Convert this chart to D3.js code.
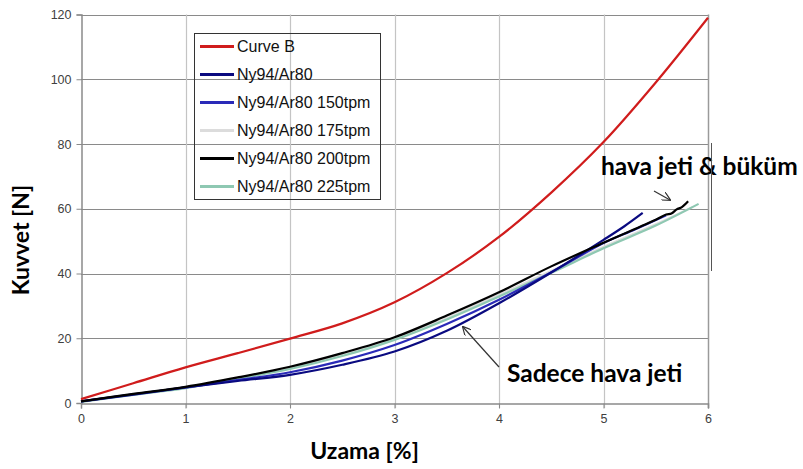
<!DOCTYPE html>
<html>
<head>
<meta charset="utf-8">
<script src="https://cdn.jsdelivr.net/npm/d3@7"></script>
<style>
  body { margin: 0; background: #fff; }
  svg { display: block; }
</style>
</head>
<body>
<div id="chart"></div>
<script>
// chart size
var chart_width = 803;
var chart_height = 469;
var margin = {top: 14.5, right: 95, bottom: 66, left: 81};

// data
var x_ticks = [0, 1, 2, 3, 4, 5, 6];
var y_ticks = [0, 20, 40, 60, 80, 100, 120];

var curve_b_x = [0, 0.5, 1, 1.5, 2, 2.5, 3, 3.5, 4, 4.5, 5, 5.5, 6];
var curve_b_y = [1.2, 6.1, 11, 15.4, 19.9, 24.6, 31.1, 40.1, 51.3, 65, 80.6, 99, 119];

var ny_x = [0, 0.5, 1, 1.5, 2, 2.5, 3, 3.5, 4, 4.5, 5, 5.2, 5.375];
var ny_y = [0.5, 2.6, 4.8, 6.8, 8.7, 11.8, 15.9, 22.3, 30.8, 40.3, 50.4, 54.6, 58.7];

var ny150_x = [0, 0.5, 1, 1.5, 2, 2.5, 3, 3.5, 4, 4.5, 5, 5.3, 5.6];
var ny150_y = [0.5, 2.7, 4.8, 7.1, 9.5, 13.1, 17.9, 24.4, 31.9, 40.4, 49.4, 53.6, 58];

var ny175_x = [0, 0.5, 1, 1.5, 2, 2.5, 3, 3.5, 4, 4.5, 5, 5.5, 5.85];
var ny175_y = [0.4, 2.6, 4.7, 7.6, 10.8, 14.9, 19.9, 26.2, 33.4, 40.8, 48.2, 55.2, 60.5];

var ny200_x = [0, 0.5, 1, 1.5, 2, 2.5, 3, 3.5, 4, 4.5, 5, 5.5, 5.6, 5.65, 5.7, 5.75, 5.81];
var ny200_y = [0.5, 2.8, 5, 7.9, 11.2, 15.4, 20.3, 27, 34.2, 42.2, 49.5, 56.6, 58.2, 58.5, 59.8, 60.5, 62.3];

var ny225_x = [0, 0.5, 1, 1.5, 2, 2.5, 3, 3.5, 4, 4.5, 5, 5.5, 5.91];
var ny225_y = [0.3, 2.5, 4.6, 7.5, 10.5, 14.5, 19.5, 25.8, 32.9, 40.2, 47.8, 54.8, 61.5];

var series_names = ["Curve B", "Ny94/Ar80", "Ny94/Ar80 150tpm", "Ny94/Ar80 175tpm", "Ny94/Ar80 200tpm", "Ny94/Ar80 225tpm"];
var series_colors = ["#d01c1c", "#0a0a80", "#2a2ab8", "#dcdcdc", "#000000", "#8ec8b2"];
var series_x = [curve_b_x, ny_x, ny150_x, ny175_x, ny200_x, ny225_x];
var series_y = [curve_b_y, ny_y, ny150_y, ny175_y, ny200_y, ny225_y];

var x = d3.scaleLinear().domain([0, 6]).range([margin.left, 708]);
var y = d3.scaleLinear().domain([0, 120]).range([chart_height - margin.bottom, margin.top]);

var svg = d3.select('#chart')
            .append('svg')
            .attr('width', chart_width)
            .attr('height', chart_height);

// horizontal grid
svg.append('g')
   .selectAll('line')
   .data(y_ticks.slice(1))
   .enter()
   .append('line')
   .attr('x1', x(0)).attr('x2', x(6))
   .attr('y1', function(d){ return Math.round(y(d)) + 0.5; })
   .attr('y2', function(d){ return Math.round(y(d)) + 0.5; })
   .attr('stroke', '#8a8a8a')
   .attr('stroke-width', 1);

// vertical grid
svg.append('g')
   .selectAll('line')
   .data(x_ticks.slice(1, 6))
   .enter()
   .append('line')
   .attr('x1', function(d){ return Math.round(x(d)) + 0.5; })
   .attr('x2', function(d){ return Math.round(x(d)) + 0.5; })
   .attr('y1', y(120)).attr('y2', y(0) + 5)
   .attr('stroke', '#c4c4c4')
   .attr('stroke-width', 1.2);

// right border
svg.append('line')
   .attr('x1', Math.round(x(6)) + 0.5).attr('x2', Math.round(x(6)) + 0.5)
   .attr('y1', y(120)).attr('y2', y(0) + 5)
   .attr('stroke', '#9a9a9a')
   .attr('stroke-width', 1.5);

// axes
var xAxis = svg.append('g')
   .attr('transform', 'translate(0,' + (Math.round(y(0)) + 0.5) + ')')
   .call(d3.axisBottom(x).tickValues(x_ticks).tickFormat(d3.format('d')).tickSize(5).tickPadding(6));
var yAxis = svg.append('g')
   .attr('transform', 'translate(' + (Math.round(x(0)) + 0.5) + ',0)')
   .call(d3.axisLeft(y).tickValues(y_ticks).tickSize(5).tickPadding(5));

[xAxis, yAxis].forEach(function(a){
    a.select('.domain').attr('stroke', '#8a8a8a').attr('stroke-width', 1.5);
    a.selectAll('.tick line').attr('stroke', '#8a8a8a');
    a.selectAll('.tick text')
     .attr('fill', '#404040')
     .style('font-family', 'Liberation Sans, Arial, sans-serif')
     .style('font-size', '12.5px');
});

// lines
var line = d3.line()
             .x(function(d){ return x(d[0]); })
             .y(function(d){ return y(d[1]); })
             .curve(d3.curveCatmullRom.alpha(0.5));

var draw_order = [3, 5, 2, 1, 4, 0];
draw_order.forEach(function(i){
    var pts = series_x[i].map(function(v, j){ return [v, series_y[i][j]]; });
    svg.append('path')
       .datum(pts)
       .attr('d', line)
       .attr('fill', 'none')
       .attr('stroke', series_colors[i])
       .attr('stroke-width', 2.2)
       .attr('stroke-linejoin', 'round');
});

// legend (no fill, grid shows through)
var lg = {x: 194, y: 33, w: 186, h: 166};
svg.append('rect')
   .attr('x', lg.x + 0.5).attr('y', lg.y + 0.5)
   .attr('width', lg.w).attr('height', lg.h)
   .attr('fill', 'none')
   .attr('stroke', '#333')
   .attr('stroke-width', 1);

var items = svg.append('g')
   .selectAll('g')
   .data(series_names)
   .enter()
   .append('g')
   .attr('transform', function(d, i){ return 'translate(' + (lg.x + 6) + ',' + (46.5 + i * 28) + ')'; });
items.append('line')
     .attr('x1', 0).attr('x2', 34)
     .attr('stroke', function(d, i){ return series_colors[i]; })
     .attr('stroke-width', 3);
items.append('text')
     .attr('x', 37).attr('y', 5.5)
     .text(function(d){ return d; })
     .attr('fill', '#111')
     .style('font-family', 'Liberation Sans, Arial, sans-serif')
     .style('font-size', '16px');

// axis titles
svg.append('text')
   .attr('x', (x(0) + x(6)) / 2 - 30).attr('y', 459)
   .attr('text-anchor', 'middle')
   .text('Uzama [%]')
   .style('font-family', 'Lato, sans-serif')
   .style('font-weight', 'bold')
   .style('font-size', '23px');

svg.append('text')
   .attr('transform', 'translate(29,240) rotate(-90)')
   .attr('text-anchor', 'middle')
   .text('Kuvvet [N]')
   .style('font-family', 'Lato, sans-serif')
   .style('font-weight', 'bold')
   .style('font-size', '23px');

// annotations
svg.append('defs').append('marker')
   .attr('id', 'arr')
   .attr('viewBox', '0 0 10 10')
   .attr('refX', 9).attr('refY', 5)
   .attr('markerWidth', 9).attr('markerHeight', 9)
   .attr('markerUnits', 'userSpaceOnUse')
   .attr('orient', 'auto')
   .append('path')
   .attr('d', 'M0,0 L10,5 L0,10')
   .attr('fill', 'none')
   .attr('stroke', '#333')
   .attr('stroke-width', 1.3);

svg.append('text')
   .attr('x', 601).attr('y', 175)
   .text('hava jeti & büküm')
   .style('font-family', 'Lato, sans-serif')
   .style('font-weight', 'bold')
   .style('font-size', '24.5px');

svg.append('line')
   .attr('x1', 654).attr('y1', 191).attr('x2', 670).attr('y2', 200)
   .attr('stroke', '#333').attr('stroke-width', 1.2)
   .attr('marker-end', 'url(#arr)');

svg.append('line')
   .attr('x1', 711.5).attr('x2', 711.5).attr('y1', 143).attr('y2', 271)
   .attr('stroke', '#555').attr('stroke-width', 1);

svg.append('text')
   .attr('x', 507).attr('y', 382)
   .text('Sadece hava jeti')
   .style('font-family', 'Lato, sans-serif')
   .style('font-weight', 'bold')
   .style('font-size', '24.5px');

svg.append('line')
   .attr('x1', 499).attr('y1', 367).attr('x2', 463).attr('y2', 327)
   .attr('stroke', '#333').attr('stroke-width', 1.2)
   .attr('marker-end', 'url(#arr)');
</script>
</body>
</html>
